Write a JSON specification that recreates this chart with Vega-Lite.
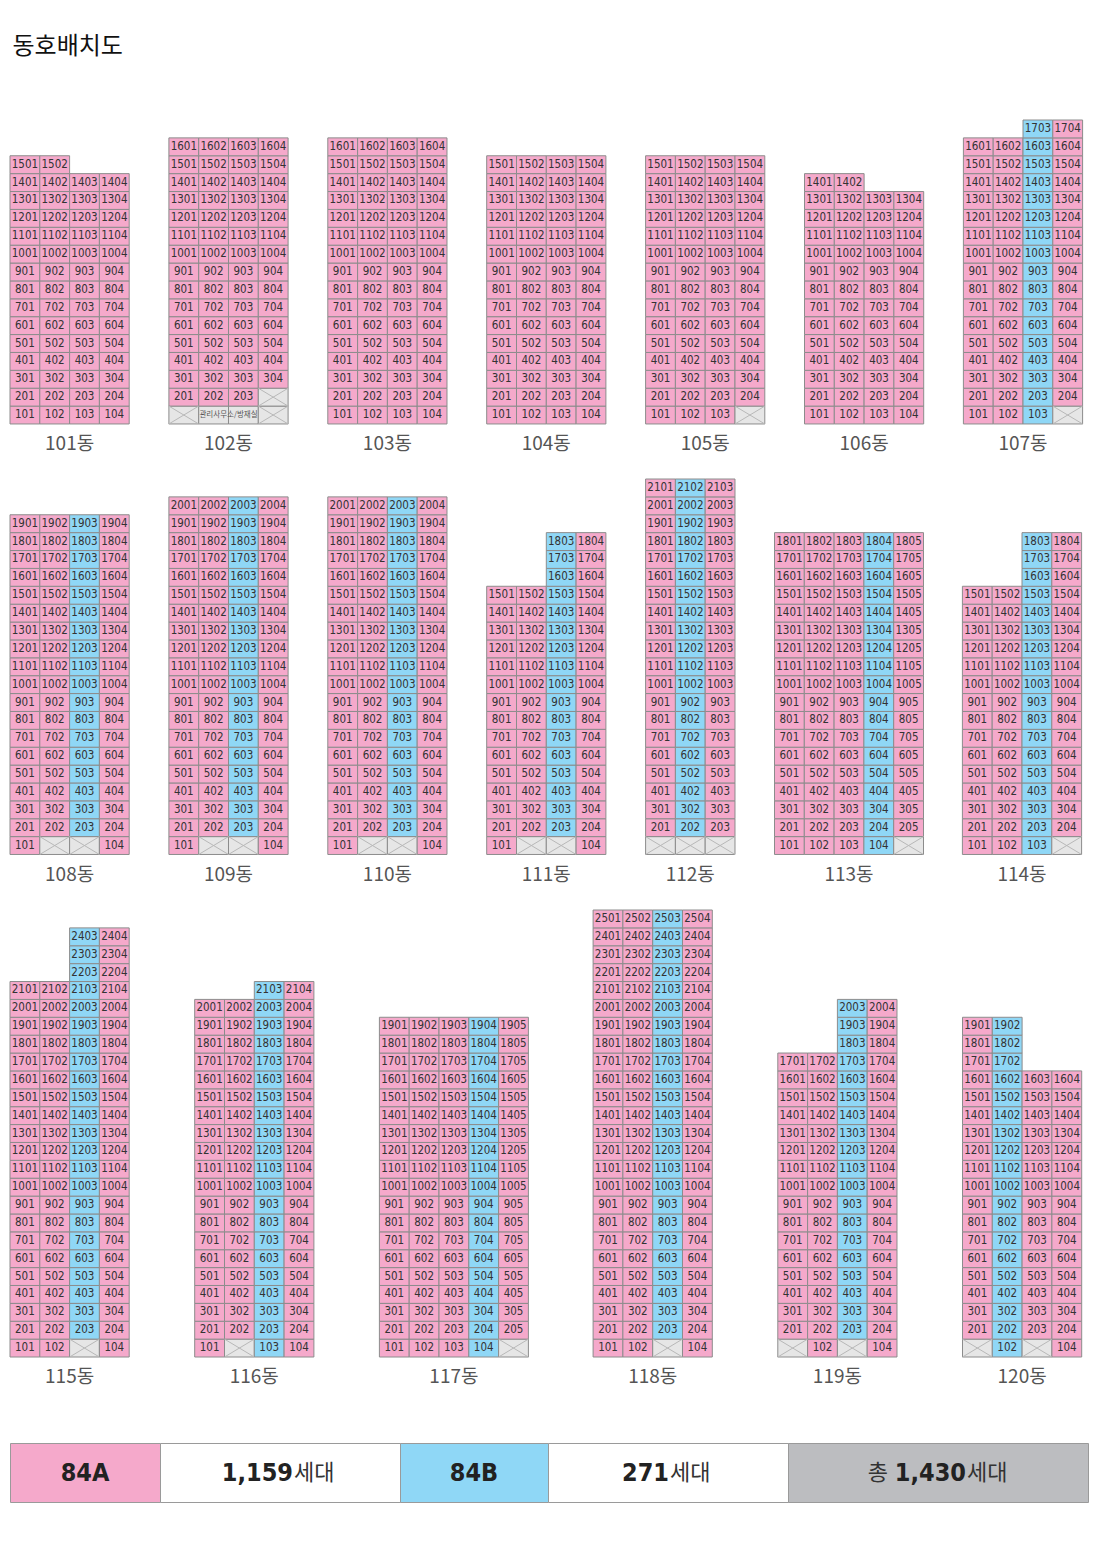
{
"$schema":"https://vega.github.io/schema/vega-lite/v6.json",
"background":"white",
"padding":{"left":9,"top":35,"right":5,"bottom":5},
"title":{"text":"동호배치도","anchor":"start","font":"Noto Sans CJK KR","fontSize":24,"fontWeight":"normal","color":"#111","offset":60.5,"dx":3},
"config":{"view":{"stroke":null}},
"spacing":24,
"datasets":{
"names":[{"b":101,"n":"101동"},{"b":102,"n":"102동"},{"b":103,"n":"103동"},{"b":104,"n":"104동"},{"b":105,"n":"105동"},{"b":106,"n":"106동"},{"b":107,"n":"107동"},{"b":108,"n":"108동"},{"b":109,"n":"109동"},{"b":110,"n":"110동"},{"b":111,"n":"111동"},{"b":112,"n":"112동"},{"b":113,"n":"113동"},{"b":114,"n":"114동"},{"b":115,"n":"115동"},{"b":116,"n":"116동"},{"b":117,"n":"117동"},{"b":118,"n":"118동"},{"b":119,"n":"119동"},{"b":120,"n":"120동"}],
"pat":[{"p":"AAAA","t":["A","A","A","A"]},{"p":"AA","t":["A","A"]},{"p":"XMmX","t":["X","M","m","X"]},{"p":"AAAX","t":["A","A","A","X"]},{"p":"AABX","t":["A","A","B","X"]},{"p":"AABA","t":["A","A","B","A"]},{"p":"NNBA","t":["N","N","B","A"]},{"p":"AXXA","t":["A","X","X","A"]},{"p":"XXX","t":["X","X","X"]},{"p":"ABA","t":["A","B","A"]},{"p":"AAABX","t":["A","A","A","B","X"]},{"p":"AAABA","t":["A","A","A","B","A"]},{"p":"AAXA","t":["A","A","X","A"]},{"p":"AXBA","t":["A","X","B","A"]},{"p":"XAXA","t":["X","A","X","A"]},{"p":"XBXA","t":["X","B","X","A"]},{"p":"ABAA","t":["A","B","A","A"]},{"p":"AB","t":["A","B"]}],
"cells":[
{"b":101,"f":1,"u":[101,102,103,104],"p":"AAAA"},{"b":101,"f":2,"u":[201,202,203,204],"p":"AAAA"},{"b":101,"f":3,"u":[301,302,303,304],"p":"AAAA"},{"b":101,"f":4,"u":[401,402,403,404],"p":"AAAA"},{"b":101,"f":5,"u":[501,502,503,504],"p":"AAAA"},{"b":101,"f":6,"u":[601,602,603,604],"p":"AAAA"},{"b":101,"f":7,"u":[701,702,703,704],"p":"AAAA"},{"b":101,"f":8,"u":[801,802,803,804],"p":"AAAA"},{"b":101,"f":9,"u":[901,902,903,904],"p":"AAAA"},{"b":101,"f":10,"u":[1001,1002,1003,1004],"p":"AAAA"},{"b":101,"f":11,"u":[1101,1102,1103,1104],"p":"AAAA"},{"b":101,"f":12,"u":[1201,1202,1203,1204],"p":"AAAA"},{"b":101,"f":13,"u":[1301,1302,1303,1304],"p":"AAAA"},{"b":101,"f":14,"u":[1401,1402,1403,1404],"p":"AAAA"},{"b":101,"f":15,"u":[1501,1502],"p":"AA"},
{"b":102,"f":1,"u":[0,"관리사무소/방재실",0,0],"p":"XMmX"},{"b":102,"f":2,"u":[201,202,203,0],"p":"AAAX"},{"b":102,"f":3,"u":[301,302,303,304],"p":"AAAA"},{"b":102,"f":4,"u":[401,402,403,404],"p":"AAAA"},{"b":102,"f":5,"u":[501,502,503,504],"p":"AAAA"},{"b":102,"f":6,"u":[601,602,603,604],"p":"AAAA"},{"b":102,"f":7,"u":[701,702,703,704],"p":"AAAA"},{"b":102,"f":8,"u":[801,802,803,804],"p":"AAAA"},{"b":102,"f":9,"u":[901,902,903,904],"p":"AAAA"},{"b":102,"f":10,"u":[1001,1002,1003,1004],"p":"AAAA"},{"b":102,"f":11,"u":[1101,1102,1103,1104],"p":"AAAA"},{"b":102,"f":12,"u":[1201,1202,1203,1204],"p":"AAAA"},{"b":102,"f":13,"u":[1301,1302,1303,1304],"p":"AAAA"},{"b":102,"f":14,"u":[1401,1402,1403,1404],"p":"AAAA"},{"b":102,"f":15,"u":[1501,1502,1503,1504],"p":"AAAA"},{"b":102,"f":16,"u":[1601,1602,1603,1604],"p":"AAAA"},
{"b":103,"f":1,"u":[101,102,103,104],"p":"AAAA"},{"b":103,"f":2,"u":[201,202,203,204],"p":"AAAA"},{"b":103,"f":3,"u":[301,302,303,304],"p":"AAAA"},{"b":103,"f":4,"u":[401,402,403,404],"p":"AAAA"},{"b":103,"f":5,"u":[501,502,503,504],"p":"AAAA"},{"b":103,"f":6,"u":[601,602,603,604],"p":"AAAA"},{"b":103,"f":7,"u":[701,702,703,704],"p":"AAAA"},{"b":103,"f":8,"u":[801,802,803,804],"p":"AAAA"},{"b":103,"f":9,"u":[901,902,903,904],"p":"AAAA"},{"b":103,"f":10,"u":[1001,1002,1003,1004],"p":"AAAA"},{"b":103,"f":11,"u":[1101,1102,1103,1104],"p":"AAAA"},{"b":103,"f":12,"u":[1201,1202,1203,1204],"p":"AAAA"},{"b":103,"f":13,"u":[1301,1302,1303,1304],"p":"AAAA"},{"b":103,"f":14,"u":[1401,1402,1403,1404],"p":"AAAA"},{"b":103,"f":15,"u":[1501,1502,1503,1504],"p":"AAAA"},{"b":103,"f":16,"u":[1601,1602,1603,1604],"p":"AAAA"},
{"b":104,"f":1,"u":[101,102,103,104],"p":"AAAA"},{"b":104,"f":2,"u":[201,202,203,204],"p":"AAAA"},{"b":104,"f":3,"u":[301,302,303,304],"p":"AAAA"},{"b":104,"f":4,"u":[401,402,403,404],"p":"AAAA"},{"b":104,"f":5,"u":[501,502,503,504],"p":"AAAA"},{"b":104,"f":6,"u":[601,602,603,604],"p":"AAAA"},{"b":104,"f":7,"u":[701,702,703,704],"p":"AAAA"},{"b":104,"f":8,"u":[801,802,803,804],"p":"AAAA"},{"b":104,"f":9,"u":[901,902,903,904],"p":"AAAA"},{"b":104,"f":10,"u":[1001,1002,1003,1004],"p":"AAAA"},{"b":104,"f":11,"u":[1101,1102,1103,1104],"p":"AAAA"},{"b":104,"f":12,"u":[1201,1202,1203,1204],"p":"AAAA"},{"b":104,"f":13,"u":[1301,1302,1303,1304],"p":"AAAA"},{"b":104,"f":14,"u":[1401,1402,1403,1404],"p":"AAAA"},{"b":104,"f":15,"u":[1501,1502,1503,1504],"p":"AAAA"},
{"b":105,"f":1,"u":[101,102,103,0],"p":"AAAX"},{"b":105,"f":2,"u":[201,202,203,204],"p":"AAAA"},{"b":105,"f":3,"u":[301,302,303,304],"p":"AAAA"},{"b":105,"f":4,"u":[401,402,403,404],"p":"AAAA"},{"b":105,"f":5,"u":[501,502,503,504],"p":"AAAA"},{"b":105,"f":6,"u":[601,602,603,604],"p":"AAAA"},{"b":105,"f":7,"u":[701,702,703,704],"p":"AAAA"},{"b":105,"f":8,"u":[801,802,803,804],"p":"AAAA"},{"b":105,"f":9,"u":[901,902,903,904],"p":"AAAA"},{"b":105,"f":10,"u":[1001,1002,1003,1004],"p":"AAAA"},{"b":105,"f":11,"u":[1101,1102,1103,1104],"p":"AAAA"},{"b":105,"f":12,"u":[1201,1202,1203,1204],"p":"AAAA"},{"b":105,"f":13,"u":[1301,1302,1303,1304],"p":"AAAA"},{"b":105,"f":14,"u":[1401,1402,1403,1404],"p":"AAAA"},{"b":105,"f":15,"u":[1501,1502,1503,1504],"p":"AAAA"},
{"b":106,"f":1,"u":[101,102,103,104],"p":"AAAA"},{"b":106,"f":2,"u":[201,202,203,204],"p":"AAAA"},{"b":106,"f":3,"u":[301,302,303,304],"p":"AAAA"},{"b":106,"f":4,"u":[401,402,403,404],"p":"AAAA"},{"b":106,"f":5,"u":[501,502,503,504],"p":"AAAA"},{"b":106,"f":6,"u":[601,602,603,604],"p":"AAAA"},{"b":106,"f":7,"u":[701,702,703,704],"p":"AAAA"},{"b":106,"f":8,"u":[801,802,803,804],"p":"AAAA"},{"b":106,"f":9,"u":[901,902,903,904],"p":"AAAA"},{"b":106,"f":10,"u":[1001,1002,1003,1004],"p":"AAAA"},{"b":106,"f":11,"u":[1101,1102,1103,1104],"p":"AAAA"},{"b":106,"f":12,"u":[1201,1202,1203,1204],"p":"AAAA"},{"b":106,"f":13,"u":[1301,1302,1303,1304],"p":"AAAA"},{"b":106,"f":14,"u":[1401,1402],"p":"AA"},
{"b":107,"f":1,"u":[101,102,103,0],"p":"AABX"},{"b":107,"f":2,"u":[201,202,203,204],"p":"AABA"},{"b":107,"f":3,"u":[301,302,303,304],"p":"AABA"},{"b":107,"f":4,"u":[401,402,403,404],"p":"AABA"},{"b":107,"f":5,"u":[501,502,503,504],"p":"AABA"},{"b":107,"f":6,"u":[601,602,603,604],"p":"AABA"},{"b":107,"f":7,"u":[701,702,703,704],"p":"AABA"},{"b":107,"f":8,"u":[801,802,803,804],"p":"AABA"},{"b":107,"f":9,"u":[901,902,903,904],"p":"AABA"},{"b":107,"f":10,"u":[1001,1002,1003,1004],"p":"AABA"},{"b":107,"f":11,"u":[1101,1102,1103,1104],"p":"AABA"},{"b":107,"f":12,"u":[1201,1202,1203,1204],"p":"AABA"},{"b":107,"f":13,"u":[1301,1302,1303,1304],"p":"AABA"},{"b":107,"f":14,"u":[1401,1402,1403,1404],"p":"AABA"},{"b":107,"f":15,"u":[1501,1502,1503,1504],"p":"AABA"},{"b":107,"f":16,"u":[1601,1602,1603,1604],"p":"AABA"},{"b":107,"f":17,"u":[0,0,1703,1704],"p":"NNBA"},
{"b":108,"f":1,"u":[101,0,0,104],"p":"AXXA"},{"b":108,"f":2,"u":[201,202,203,204],"p":"AABA"},{"b":108,"f":3,"u":[301,302,303,304],"p":"AABA"},{"b":108,"f":4,"u":[401,402,403,404],"p":"AABA"},{"b":108,"f":5,"u":[501,502,503,504],"p":"AABA"},{"b":108,"f":6,"u":[601,602,603,604],"p":"AABA"},{"b":108,"f":7,"u":[701,702,703,704],"p":"AABA"},{"b":108,"f":8,"u":[801,802,803,804],"p":"AABA"},{"b":108,"f":9,"u":[901,902,903,904],"p":"AABA"},{"b":108,"f":10,"u":[1001,1002,1003,1004],"p":"AABA"},{"b":108,"f":11,"u":[1101,1102,1103,1104],"p":"AABA"},{"b":108,"f":12,"u":[1201,1202,1203,1204],"p":"AABA"},{"b":108,"f":13,"u":[1301,1302,1303,1304],"p":"AABA"},{"b":108,"f":14,"u":[1401,1402,1403,1404],"p":"AABA"},{"b":108,"f":15,"u":[1501,1502,1503,1504],"p":"AABA"},{"b":108,"f":16,"u":[1601,1602,1603,1604],"p":"AABA"},{"b":108,"f":17,"u":[1701,1702,1703,1704],"p":"AABA"},{"b":108,"f":18,"u":[1801,1802,1803,1804],"p":"AABA"},{"b":108,"f":19,"u":[1901,1902,1903,1904],"p":"AABA"},
{"b":109,"f":1,"u":[101,0,0,104],"p":"AXXA"},{"b":109,"f":2,"u":[201,202,203,204],"p":"AABA"},{"b":109,"f":3,"u":[301,302,303,304],"p":"AABA"},{"b":109,"f":4,"u":[401,402,403,404],"p":"AABA"},{"b":109,"f":5,"u":[501,502,503,504],"p":"AABA"},{"b":109,"f":6,"u":[601,602,603,604],"p":"AABA"},{"b":109,"f":7,"u":[701,702,703,704],"p":"AABA"},{"b":109,"f":8,"u":[801,802,803,804],"p":"AABA"},{"b":109,"f":9,"u":[901,902,903,904],"p":"AABA"},{"b":109,"f":10,"u":[1001,1002,1003,1004],"p":"AABA"},{"b":109,"f":11,"u":[1101,1102,1103,1104],"p":"AABA"},{"b":109,"f":12,"u":[1201,1202,1203,1204],"p":"AABA"},{"b":109,"f":13,"u":[1301,1302,1303,1304],"p":"AABA"},{"b":109,"f":14,"u":[1401,1402,1403,1404],"p":"AABA"},{"b":109,"f":15,"u":[1501,1502,1503,1504],"p":"AABA"},{"b":109,"f":16,"u":[1601,1602,1603,1604],"p":"AABA"},{"b":109,"f":17,"u":[1701,1702,1703,1704],"p":"AABA"},{"b":109,"f":18,"u":[1801,1802,1803,1804],"p":"AABA"},{"b":109,"f":19,"u":[1901,1902,1903,1904],"p":"AABA"},{"b":109,"f":20,"u":[2001,2002,2003,2004],"p":"AABA"},
{"b":110,"f":1,"u":[101,0,0,104],"p":"AXXA"},{"b":110,"f":2,"u":[201,202,203,204],"p":"AABA"},{"b":110,"f":3,"u":[301,302,303,304],"p":"AABA"},{"b":110,"f":4,"u":[401,402,403,404],"p":"AABA"},{"b":110,"f":5,"u":[501,502,503,504],"p":"AABA"},{"b":110,"f":6,"u":[601,602,603,604],"p":"AABA"},{"b":110,"f":7,"u":[701,702,703,704],"p":"AABA"},{"b":110,"f":8,"u":[801,802,803,804],"p":"AABA"},{"b":110,"f":9,"u":[901,902,903,904],"p":"AABA"},{"b":110,"f":10,"u":[1001,1002,1003,1004],"p":"AABA"},{"b":110,"f":11,"u":[1101,1102,1103,1104],"p":"AABA"},{"b":110,"f":12,"u":[1201,1202,1203,1204],"p":"AABA"},{"b":110,"f":13,"u":[1301,1302,1303,1304],"p":"AABA"},{"b":110,"f":14,"u":[1401,1402,1403,1404],"p":"AABA"},{"b":110,"f":15,"u":[1501,1502,1503,1504],"p":"AABA"},{"b":110,"f":16,"u":[1601,1602,1603,1604],"p":"AABA"},{"b":110,"f":17,"u":[1701,1702,1703,1704],"p":"AABA"},{"b":110,"f":18,"u":[1801,1802,1803,1804],"p":"AABA"},{"b":110,"f":19,"u":[1901,1902,1903,1904],"p":"AABA"},{"b":110,"f":20,"u":[2001,2002,2003,2004],"p":"AABA"},
{"b":111,"f":1,"u":[101,0,0,104],"p":"AXXA"},{"b":111,"f":2,"u":[201,202,203,204],"p":"AABA"},{"b":111,"f":3,"u":[301,302,303,304],"p":"AABA"},{"b":111,"f":4,"u":[401,402,403,404],"p":"AABA"},{"b":111,"f":5,"u":[501,502,503,504],"p":"AABA"},{"b":111,"f":6,"u":[601,602,603,604],"p":"AABA"},{"b":111,"f":7,"u":[701,702,703,704],"p":"AABA"},{"b":111,"f":8,"u":[801,802,803,804],"p":"AABA"},{"b":111,"f":9,"u":[901,902,903,904],"p":"AABA"},{"b":111,"f":10,"u":[1001,1002,1003,1004],"p":"AABA"},{"b":111,"f":11,"u":[1101,1102,1103,1104],"p":"AABA"},{"b":111,"f":12,"u":[1201,1202,1203,1204],"p":"AABA"},{"b":111,"f":13,"u":[1301,1302,1303,1304],"p":"AABA"},{"b":111,"f":14,"u":[1401,1402,1403,1404],"p":"AABA"},{"b":111,"f":15,"u":[1501,1502,1503,1504],"p":"AABA"},{"b":111,"f":16,"u":[0,0,1603,1604],"p":"NNBA"},{"b":111,"f":17,"u":[0,0,1703,1704],"p":"NNBA"},{"b":111,"f":18,"u":[0,0,1803,1804],"p":"NNBA"},
{"b":112,"f":1,"u":[0,0,0],"p":"XXX"},{"b":112,"f":2,"u":[201,202,203],"p":"ABA"},{"b":112,"f":3,"u":[301,302,303],"p":"ABA"},{"b":112,"f":4,"u":[401,402,403],"p":"ABA"},{"b":112,"f":5,"u":[501,502,503],"p":"ABA"},{"b":112,"f":6,"u":[601,602,603],"p":"ABA"},{"b":112,"f":7,"u":[701,702,703],"p":"ABA"},{"b":112,"f":8,"u":[801,802,803],"p":"ABA"},{"b":112,"f":9,"u":[901,902,903],"p":"ABA"},{"b":112,"f":10,"u":[1001,1002,1003],"p":"ABA"},{"b":112,"f":11,"u":[1101,1102,1103],"p":"ABA"},{"b":112,"f":12,"u":[1201,1202,1203],"p":"ABA"},{"b":112,"f":13,"u":[1301,1302,1303],"p":"ABA"},{"b":112,"f":14,"u":[1401,1402,1403],"p":"ABA"},{"b":112,"f":15,"u":[1501,1502,1503],"p":"ABA"},{"b":112,"f":16,"u":[1601,1602,1603],"p":"ABA"},{"b":112,"f":17,"u":[1701,1702,1703],"p":"ABA"},{"b":112,"f":18,"u":[1801,1802,1803],"p":"ABA"},{"b":112,"f":19,"u":[1901,1902,1903],"p":"ABA"},{"b":112,"f":20,"u":[2001,2002,2003],"p":"ABA"},{"b":112,"f":21,"u":[2101,2102,2103],"p":"ABA"},
{"b":113,"f":1,"u":[101,102,103,104,0],"p":"AAABX"},{"b":113,"f":2,"u":[201,202,203,204,205],"p":"AAABA"},{"b":113,"f":3,"u":[301,302,303,304,305],"p":"AAABA"},{"b":113,"f":4,"u":[401,402,403,404,405],"p":"AAABA"},{"b":113,"f":5,"u":[501,502,503,504,505],"p":"AAABA"},{"b":113,"f":6,"u":[601,602,603,604,605],"p":"AAABA"},{"b":113,"f":7,"u":[701,702,703,704,705],"p":"AAABA"},{"b":113,"f":8,"u":[801,802,803,804,805],"p":"AAABA"},{"b":113,"f":9,"u":[901,902,903,904,905],"p":"AAABA"},{"b":113,"f":10,"u":[1001,1002,1003,1004,1005],"p":"AAABA"},{"b":113,"f":11,"u":[1101,1102,1103,1104,1105],"p":"AAABA"},{"b":113,"f":12,"u":[1201,1202,1203,1204,1205],"p":"AAABA"},{"b":113,"f":13,"u":[1301,1302,1303,1304,1305],"p":"AAABA"},{"b":113,"f":14,"u":[1401,1402,1403,1404,1405],"p":"AAABA"},{"b":113,"f":15,"u":[1501,1502,1503,1504,1505],"p":"AAABA"},{"b":113,"f":16,"u":[1601,1602,1603,1604,1605],"p":"AAABA"},{"b":113,"f":17,"u":[1701,1702,1703,1704,1705],"p":"AAABA"},{"b":113,"f":18,"u":[1801,1802,1803,1804,1805],"p":"AAABA"},
{"b":114,"f":1,"u":[101,102,103,0],"p":"AABX"},{"b":114,"f":2,"u":[201,202,203,204],"p":"AABA"},{"b":114,"f":3,"u":[301,302,303,304],"p":"AABA"},{"b":114,"f":4,"u":[401,402,403,404],"p":"AABA"},{"b":114,"f":5,"u":[501,502,503,504],"p":"AABA"},{"b":114,"f":6,"u":[601,602,603,604],"p":"AABA"},{"b":114,"f":7,"u":[701,702,703,704],"p":"AABA"},{"b":114,"f":8,"u":[801,802,803,804],"p":"AABA"},{"b":114,"f":9,"u":[901,902,903,904],"p":"AABA"},{"b":114,"f":10,"u":[1001,1002,1003,1004],"p":"AABA"},{"b":114,"f":11,"u":[1101,1102,1103,1104],"p":"AABA"},{"b":114,"f":12,"u":[1201,1202,1203,1204],"p":"AABA"},{"b":114,"f":13,"u":[1301,1302,1303,1304],"p":"AABA"},{"b":114,"f":14,"u":[1401,1402,1403,1404],"p":"AABA"},{"b":114,"f":15,"u":[1501,1502,1503,1504],"p":"AABA"},{"b":114,"f":16,"u":[0,0,1603,1604],"p":"NNBA"},{"b":114,"f":17,"u":[0,0,1703,1704],"p":"NNBA"},{"b":114,"f":18,"u":[0,0,1803,1804],"p":"NNBA"},
{"b":115,"f":1,"u":[101,102,0,104],"p":"AAXA"},{"b":115,"f":2,"u":[201,202,203,204],"p":"AABA"},{"b":115,"f":3,"u":[301,302,303,304],"p":"AABA"},{"b":115,"f":4,"u":[401,402,403,404],"p":"AABA"},{"b":115,"f":5,"u":[501,502,503,504],"p":"AABA"},{"b":115,"f":6,"u":[601,602,603,604],"p":"AABA"},{"b":115,"f":7,"u":[701,702,703,704],"p":"AABA"},{"b":115,"f":8,"u":[801,802,803,804],"p":"AABA"},{"b":115,"f":9,"u":[901,902,903,904],"p":"AABA"},{"b":115,"f":10,"u":[1001,1002,1003,1004],"p":"AABA"},{"b":115,"f":11,"u":[1101,1102,1103,1104],"p":"AABA"},{"b":115,"f":12,"u":[1201,1202,1203,1204],"p":"AABA"},{"b":115,"f":13,"u":[1301,1302,1303,1304],"p":"AABA"},{"b":115,"f":14,"u":[1401,1402,1403,1404],"p":"AABA"},{"b":115,"f":15,"u":[1501,1502,1503,1504],"p":"AABA"},{"b":115,"f":16,"u":[1601,1602,1603,1604],"p":"AABA"},{"b":115,"f":17,"u":[1701,1702,1703,1704],"p":"AABA"},{"b":115,"f":18,"u":[1801,1802,1803,1804],"p":"AABA"},{"b":115,"f":19,"u":[1901,1902,1903,1904],"p":"AABA"},{"b":115,"f":20,"u":[2001,2002,2003,2004],"p":"AABA"},{"b":115,"f":21,"u":[2101,2102,2103,2104],"p":"AABA"},{"b":115,"f":22,"u":[0,0,2203,2204],"p":"NNBA"},{"b":115,"f":23,"u":[0,0,2303,2304],"p":"NNBA"},{"b":115,"f":24,"u":[0,0,2403,2404],"p":"NNBA"},
{"b":116,"f":1,"u":[101,0,103,104],"p":"AXBA"},{"b":116,"f":2,"u":[201,202,203,204],"p":"AABA"},{"b":116,"f":3,"u":[301,302,303,304],"p":"AABA"},{"b":116,"f":4,"u":[401,402,403,404],"p":"AABA"},{"b":116,"f":5,"u":[501,502,503,504],"p":"AABA"},{"b":116,"f":6,"u":[601,602,603,604],"p":"AABA"},{"b":116,"f":7,"u":[701,702,703,704],"p":"AABA"},{"b":116,"f":8,"u":[801,802,803,804],"p":"AABA"},{"b":116,"f":9,"u":[901,902,903,904],"p":"AABA"},{"b":116,"f":10,"u":[1001,1002,1003,1004],"p":"AABA"},{"b":116,"f":11,"u":[1101,1102,1103,1104],"p":"AABA"},{"b":116,"f":12,"u":[1201,1202,1203,1204],"p":"AABA"},{"b":116,"f":13,"u":[1301,1302,1303,1304],"p":"AABA"},{"b":116,"f":14,"u":[1401,1402,1403,1404],"p":"AABA"},{"b":116,"f":15,"u":[1501,1502,1503,1504],"p":"AABA"},{"b":116,"f":16,"u":[1601,1602,1603,1604],"p":"AABA"},{"b":116,"f":17,"u":[1701,1702,1703,1704],"p":"AABA"},{"b":116,"f":18,"u":[1801,1802,1803,1804],"p":"AABA"},{"b":116,"f":19,"u":[1901,1902,1903,1904],"p":"AABA"},{"b":116,"f":20,"u":[2001,2002,2003,2004],"p":"AABA"},{"b":116,"f":21,"u":[0,0,2103,2104],"p":"NNBA"},
{"b":117,"f":1,"u":[101,102,103,104,0],"p":"AAABX"},{"b":117,"f":2,"u":[201,202,203,204,205],"p":"AAABA"},{"b":117,"f":3,"u":[301,302,303,304,305],"p":"AAABA"},{"b":117,"f":4,"u":[401,402,403,404,405],"p":"AAABA"},{"b":117,"f":5,"u":[501,502,503,504,505],"p":"AAABA"},{"b":117,"f":6,"u":[601,602,603,604,605],"p":"AAABA"},{"b":117,"f":7,"u":[701,702,703,704,705],"p":"AAABA"},{"b":117,"f":8,"u":[801,802,803,804,805],"p":"AAABA"},{"b":117,"f":9,"u":[901,902,903,904,905],"p":"AAABA"},{"b":117,"f":10,"u":[1001,1002,1003,1004,1005],"p":"AAABA"},{"b":117,"f":11,"u":[1101,1102,1103,1104,1105],"p":"AAABA"},{"b":117,"f":12,"u":[1201,1202,1203,1204,1205],"p":"AAABA"},{"b":117,"f":13,"u":[1301,1302,1303,1304,1305],"p":"AAABA"},{"b":117,"f":14,"u":[1401,1402,1403,1404,1405],"p":"AAABA"},{"b":117,"f":15,"u":[1501,1502,1503,1504,1505],"p":"AAABA"},{"b":117,"f":16,"u":[1601,1602,1603,1604,1605],"p":"AAABA"},{"b":117,"f":17,"u":[1701,1702,1703,1704,1705],"p":"AAABA"},{"b":117,"f":18,"u":[1801,1802,1803,1804,1805],"p":"AAABA"},{"b":117,"f":19,"u":[1901,1902,1903,1904,1905],"p":"AAABA"},
{"b":118,"f":1,"u":[101,102,0,104],"p":"AAXA"},{"b":118,"f":2,"u":[201,202,203,204],"p":"AABA"},{"b":118,"f":3,"u":[301,302,303,304],"p":"AABA"},{"b":118,"f":4,"u":[401,402,403,404],"p":"AABA"},{"b":118,"f":5,"u":[501,502,503,504],"p":"AABA"},{"b":118,"f":6,"u":[601,602,603,604],"p":"AABA"},{"b":118,"f":7,"u":[701,702,703,704],"p":"AABA"},{"b":118,"f":8,"u":[801,802,803,804],"p":"AABA"},{"b":118,"f":9,"u":[901,902,903,904],"p":"AABA"},{"b":118,"f":10,"u":[1001,1002,1003,1004],"p":"AABA"},{"b":118,"f":11,"u":[1101,1102,1103,1104],"p":"AABA"},{"b":118,"f":12,"u":[1201,1202,1203,1204],"p":"AABA"},{"b":118,"f":13,"u":[1301,1302,1303,1304],"p":"AABA"},{"b":118,"f":14,"u":[1401,1402,1403,1404],"p":"AABA"},{"b":118,"f":15,"u":[1501,1502,1503,1504],"p":"AABA"},{"b":118,"f":16,"u":[1601,1602,1603,1604],"p":"AABA"},{"b":118,"f":17,"u":[1701,1702,1703,1704],"p":"AABA"},{"b":118,"f":18,"u":[1801,1802,1803,1804],"p":"AABA"},{"b":118,"f":19,"u":[1901,1902,1903,1904],"p":"AABA"},{"b":118,"f":20,"u":[2001,2002,2003,2004],"p":"AABA"},{"b":118,"f":21,"u":[2101,2102,2103,2104],"p":"AABA"},{"b":118,"f":22,"u":[2201,2202,2203,2204],"p":"AABA"},{"b":118,"f":23,"u":[2301,2302,2303,2304],"p":"AABA"},{"b":118,"f":24,"u":[2401,2402,2403,2404],"p":"AABA"},{"b":118,"f":25,"u":[2501,2502,2503,2504],"p":"AABA"},
{"b":119,"f":1,"u":[0,102,0,104],"p":"XAXA"},{"b":119,"f":2,"u":[201,202,203,204],"p":"AABA"},{"b":119,"f":3,"u":[301,302,303,304],"p":"AABA"},{"b":119,"f":4,"u":[401,402,403,404],"p":"AABA"},{"b":119,"f":5,"u":[501,502,503,504],"p":"AABA"},{"b":119,"f":6,"u":[601,602,603,604],"p":"AABA"},{"b":119,"f":7,"u":[701,702,703,704],"p":"AABA"},{"b":119,"f":8,"u":[801,802,803,804],"p":"AABA"},{"b":119,"f":9,"u":[901,902,903,904],"p":"AABA"},{"b":119,"f":10,"u":[1001,1002,1003,1004],"p":"AABA"},{"b":119,"f":11,"u":[1101,1102,1103,1104],"p":"AABA"},{"b":119,"f":12,"u":[1201,1202,1203,1204],"p":"AABA"},{"b":119,"f":13,"u":[1301,1302,1303,1304],"p":"AABA"},{"b":119,"f":14,"u":[1401,1402,1403,1404],"p":"AABA"},{"b":119,"f":15,"u":[1501,1502,1503,1504],"p":"AABA"},{"b":119,"f":16,"u":[1601,1602,1603,1604],"p":"AABA"},{"b":119,"f":17,"u":[1701,1702,1703,1704],"p":"AABA"},{"b":119,"f":18,"u":[0,0,1803,1804],"p":"NNBA"},{"b":119,"f":19,"u":[0,0,1903,1904],"p":"NNBA"},{"b":119,"f":20,"u":[0,0,2003,2004],"p":"NNBA"},
{"b":120,"f":1,"u":[0,102,0,104],"p":"XBXA"},{"b":120,"f":2,"u":[201,202,203,204],"p":"ABAA"},{"b":120,"f":3,"u":[301,302,303,304],"p":"ABAA"},{"b":120,"f":4,"u":[401,402,403,404],"p":"ABAA"},{"b":120,"f":5,"u":[501,502,503,504],"p":"ABAA"},{"b":120,"f":6,"u":[601,602,603,604],"p":"ABAA"},{"b":120,"f":7,"u":[701,702,703,704],"p":"ABAA"},{"b":120,"f":8,"u":[801,802,803,804],"p":"ABAA"},{"b":120,"f":9,"u":[901,902,903,904],"p":"ABAA"},{"b":120,"f":10,"u":[1001,1002,1003,1004],"p":"ABAA"},{"b":120,"f":11,"u":[1101,1102,1103,1104],"p":"ABAA"},{"b":120,"f":12,"u":[1201,1202,1203,1204],"p":"ABAA"},{"b":120,"f":13,"u":[1301,1302,1303,1304],"p":"ABAA"},{"b":120,"f":14,"u":[1401,1402,1403,1404],"p":"ABAA"},{"b":120,"f":15,"u":[1501,1502,1503,1504],"p":"ABAA"},{"b":120,"f":16,"u":[1601,1602,1603,1604],"p":"ABAA"},{"b":120,"f":17,"u":[1701,1702],"p":"AB"},{"b":120,"f":18,"u":[1801,1802],"p":"AB"},{"b":120,"f":19,"u":[1901,1902],"p":"AB"}
]},
"vconcat":[
{"data":{"name":"cells"},
 "transform":[{"filter":{"field":"b","oneOf":[101,102,103,104,105,106,107]}},{"lookup":"p","from":{"data":{"name":"pat"},"key":"p","fields":["t"]}},{"lookup":"b","from":{"data":{"name":"names"},"key":"b","fields":["n"]}},{"flatten":["u","t"]},{"window":[{"op":"row_number","as":"l"}],"groupby":["b","f"]},{"filter":"datum.t!=='N'"}],
 "facet":{"column":{"field":"n","type":"ordinal","header":{"title":null,"labelOrient":"bottom","labelFontSize":19,"labelColor":"#555","labelFont":"Noto Sans CJK KR","labelPadding":10.5}}},
 "spacing":38.9,"align":"each","bounds":"flush",
 "resolve":{"scale":{"x":"independent"}},
 "spec":{"width":{"step":29.8},"height":{"step":17.88},"layer":[
  {"mark":{"type":"rect","stroke":"#8c8c8c","strokeWidth":1},"encoding":{"x":{"field":"l","type":"ordinal","axis":null,"scale":{"type":"band","paddingInner":0,"paddingOuter":0}},"y":{"field":"f","type":"ordinal","axis":null,"sort":"descending","scale":{"type":"band","paddingInner":0,"paddingOuter":0}},"fill":{"field":"t","type":"nominal","legend":null,"scale":{"domain":["A","B","X","M","m"],"range":["#f5a9cb","#8fd7f6","#e6e6e6","#e6e6e6","#e6e6e6"]}}}},
  {"transform":[{"filter":"datum.t==='X'"}],"mark":{"type":"point","shape":"M-1,-0.6L1,0.6M-1,0.6L1,-0.6","size":888,"filled":false,"stroke":"#b8b8b8","strokeWidth":1,"opacity":1},"encoding":{"x":{"field":"l","type":"ordinal"},"y":{"field":"f","type":"ordinal","sort":"descending"}}},
  {"transform":[{"filter":"datum.t==='A'||datum.t==='B'"}],"mark":{"type":"text","font":"DejaVu Sans Condensed","fontSize":11.5,"fill":"#333"},"encoding":{"x":{"field":"l","type":"ordinal"},"y":{"field":"f","type":"ordinal","sort":"descending"},"text":{"field":"u","type":"nominal"}}},
  {"transform":[{"filter":"datum.t==='M'"}],"mark":{"type":"text","font":"Noto Sans CJK KR","fontSize":7.5,"fill":"#555","dx":14.9},"encoding":{"x":{"field":"l","type":"ordinal"},"y":{"field":"f","type":"ordinal","sort":"descending"},"text":{"field":"u","type":"nominal"}}}
 ]}},
{"data":{"name":"cells"},
 "transform":[{"filter":{"field":"b","oneOf":[108,109,110,111,112,113,114]}},{"lookup":"p","from":{"data":{"name":"pat"},"key":"p","fields":["t"]}},{"lookup":"b","from":{"data":{"name":"names"},"key":"b","fields":["n"]}},{"flatten":["u","t"]},{"window":[{"op":"row_number","as":"l"}],"groupby":["b","f"]},{"filter":"datum.t!=='N'"}],
 "facet":{"column":{"field":"n","type":"ordinal","header":{"title":null,"labelOrient":"bottom","labelFontSize":19,"labelColor":"#555","labelFont":"Noto Sans CJK KR","labelPadding":10.5}}},
 "spacing":38.9,"align":"each","bounds":"flush",
 "resolve":{"scale":{"x":"independent"}},
 "spec":{"width":{"step":29.8},"height":{"step":17.88},"layer":[
  {"mark":{"type":"rect","stroke":"#8c8c8c","strokeWidth":1},"encoding":{"x":{"field":"l","type":"ordinal","axis":null,"scale":{"type":"band","paddingInner":0,"paddingOuter":0}},"y":{"field":"f","type":"ordinal","axis":null,"sort":"descending","scale":{"type":"band","paddingInner":0,"paddingOuter":0}},"fill":{"field":"t","type":"nominal","legend":null,"scale":{"domain":["A","B","X","M","m"],"range":["#f5a9cb","#8fd7f6","#e6e6e6","#e6e6e6","#e6e6e6"]}}}},
  {"transform":[{"filter":"datum.t==='X'"}],"mark":{"type":"point","shape":"M-1,-0.6L1,0.6M-1,0.6L1,-0.6","size":888,"filled":false,"stroke":"#b8b8b8","strokeWidth":1,"opacity":1},"encoding":{"x":{"field":"l","type":"ordinal"},"y":{"field":"f","type":"ordinal","sort":"descending"}}},
  {"transform":[{"filter":"datum.t==='A'||datum.t==='B'"}],"mark":{"type":"text","font":"DejaVu Sans Condensed","fontSize":11.5,"fill":"#333"},"encoding":{"x":{"field":"l","type":"ordinal"},"y":{"field":"f","type":"ordinal","sort":"descending"},"text":{"field":"u","type":"nominal"}}}
 ]}},
{"data":{"name":"cells"},
 "transform":[{"filter":{"field":"b","oneOf":[115,116,117,118,119,120]}},{"lookup":"p","from":{"data":{"name":"pat"},"key":"p","fields":["t"]}},{"lookup":"b","from":{"data":{"name":"names"},"key":"b","fields":["n"]}},{"flatten":["u","t"]},{"window":[{"op":"row_number","as":"l"}],"groupby":["b","f"]},{"filter":"datum.t!=='N'"}],
 "facet":{"column":{"field":"n","type":"ordinal","header":{"title":null,"labelOrient":"bottom","labelFontSize":19,"labelColor":"#555","labelFont":"Noto Sans CJK KR","labelPadding":10.5}}},
 "spacing":64.7,"align":"each","bounds":"flush",
 "resolve":{"scale":{"x":"independent"}},
 "spec":{"width":{"step":29.8},"height":{"step":17.88},"layer":[
  {"mark":{"type":"rect","stroke":"#8c8c8c","strokeWidth":1},"encoding":{"x":{"field":"l","type":"ordinal","axis":null,"scale":{"type":"band","paddingInner":0,"paddingOuter":0}},"y":{"field":"f","type":"ordinal","axis":null,"sort":"descending","scale":{"type":"band","paddingInner":0,"paddingOuter":0}},"fill":{"field":"t","type":"nominal","legend":null,"scale":{"domain":["A","B","X","M","m"],"range":["#f5a9cb","#8fd7f6","#e6e6e6","#e6e6e6","#e6e6e6"]}}}},
  {"transform":[{"filter":"datum.t==='X'"}],"mark":{"type":"point","shape":"M-1,-0.6L1,0.6M-1,0.6L1,-0.6","size":888,"filled":false,"stroke":"#b8b8b8","strokeWidth":1,"opacity":1},"encoding":{"x":{"field":"l","type":"ordinal"},"y":{"field":"f","type":"ordinal","sort":"descending"}}},
  {"transform":[{"filter":"datum.t==='A'||datum.t==='B'"}],"mark":{"type":"text","font":"DejaVu Sans Condensed","fontSize":11.5,"fill":"#333"},"encoding":{"x":{"field":"l","type":"ordinal"},"y":{"field":"f","type":"ordinal","sort":"descending"},"text":{"field":"u","type":"nominal"}}}
 ]}},
{"height":6.5,"width":1,"data":{"values":[{"s":""}]},"mark":{"type":"text","fontSize":1},"encoding":{"text":{"field":"s"}}},
{"spacing":0,"bounds":"flush","hconcat":[
 {"width":150,"height":59,"view":{"fill":"#f5a9cb","stroke":"#9a9a9a"},"data":{"values":[{"k":"84A"}]},"mark":{"type":"text","font":"DejaVu Sans Condensed","fontWeight":"bold","fontSize":25,"fill":"#222"},"encoding":{"text":{"field":"k"}}},
 {"width":240,"height":59,"view":{"fill":"white","stroke":"#9a9a9a"},"data":{"values":[{"n":"1,159","s":"세대"}]},"layer":[
   {"mark":{"type":"text","font":"DejaVu Sans Condensed","fontWeight":"bold","fontSize":25,"fill":"#222","align":"right","dx":13},"encoding":{"text":{"field":"n"}}},
   {"mark":{"type":"text","font":"Noto Sans CJK KR","fontSize":22,"fill":"#333","align":"left","dx":14},"encoding":{"text":{"field":"s"}}}]},
 {"width":148,"height":59,"view":{"fill":"#8fd7f6","stroke":"#9a9a9a"},"data":{"values":[{"k":"84B"}]},"mark":{"type":"text","font":"DejaVu Sans Condensed","fontWeight":"bold","fontSize":25,"fill":"#222"},"encoding":{"text":{"field":"k"}}},
 {"width":240,"height":59,"view":{"fill":"white","stroke":"#9a9a9a"},"data":{"values":[{"n":"271","s":"세대"}]},"layer":[
   {"mark":{"type":"text","font":"DejaVu Sans Condensed","fontWeight":"bold","fontSize":25,"fill":"#222","align":"right","dx":1},"encoding":{"text":{"field":"n"}}},
   {"mark":{"type":"text","font":"Noto Sans CJK KR","fontSize":22,"fill":"#333","align":"left","dx":2},"encoding":{"text":{"field":"s"}}}]},
 {"width":300,"height":59,"view":{"fill":"#bcbdc0","stroke":"#9a9a9a"},"data":{"values":[{"a":"총","n":"1,430","s":"세대"}]},"layer":[
   {"mark":{"type":"text","font":"Noto Sans CJK KR","fontSize":22,"fill":"#333","align":"right","dx":-50},"encoding":{"text":{"field":"a"}}},
   {"mark":{"type":"text","font":"DejaVu Sans Condensed","fontWeight":"bold","fontSize":25,"fill":"#222","align":"right","dx":28},"encoding":{"text":{"field":"n"}}},
   {"mark":{"type":"text","font":"Noto Sans CJK KR","fontSize":22,"fill":"#333","align":"left","dx":29},"encoding":{"text":{"field":"s"}}}]}
]}
]
}
